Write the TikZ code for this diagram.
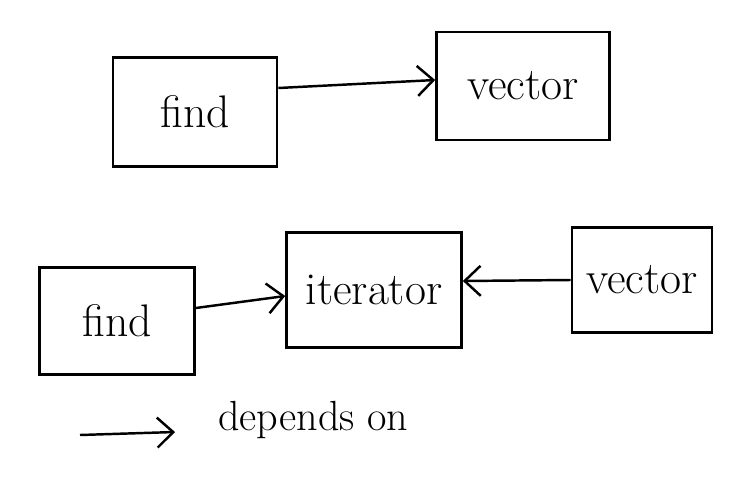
\documentclass[tikz,border=0pt]{standalone}
\usetikzlibrary{arrows.meta}
\tikzset{
  dep/.style={-{Straight Barb[length=3.2mm,width=6mm]},line width=1.4pt},
  box/.style={draw,line width=1.5pt,shape=rectangle,font=\fontsize{26}{30}\selectfont}
}
\begin{document}
\begin{tikzpicture}[x=0.02cm,y=-0.02cm]
      \useasboundingbox (0,0) rectangle (742,476);
      \begin{scope}[every node/.style={box}]
          \node[minimum width=3.28cm,minimum height=2.18cm] (find1)    at (195,112) {find};
          \node[minimum width=3.46cm,minimum height=2.16cm] (vector1)  at (523,86)  {vector};
          \node[minimum width=3.10cm,minimum height=2.14cm] (find2)    at (117,321) {find};
          \node[minimum width=3.50cm,minimum height=2.30cm] (iterator) at (374,290) {iterator};
          \node[minimum width=2.80cm,minimum height=2.10cm] (vector2)  at (642,280) {vector};
      \end{scope}

      \draw[dep] ([yshift=0.48cm]find1.east)    -- ([yshift=0.12cm]vector1.west);
      \draw[dep] ([yshift=0.26cm]find2.east)    -- ([yshift=-0.12cm]iterator.west);
      \draw[dep] ([yshift=0cm]vector2.west)     -- ([yshift=0.18cm]iterator.east);

      \coordinate (leg_a) at (80,435);
      \coordinate (leg_b) at (175,432);
      \draw[dep] (leg_a) -- (leg_b);
      \node[anchor=west,font=\fontsize{24}{28}\selectfont] (leg_lab) at (212,420) {depends on};
  \end{tikzpicture}
\end{document}
